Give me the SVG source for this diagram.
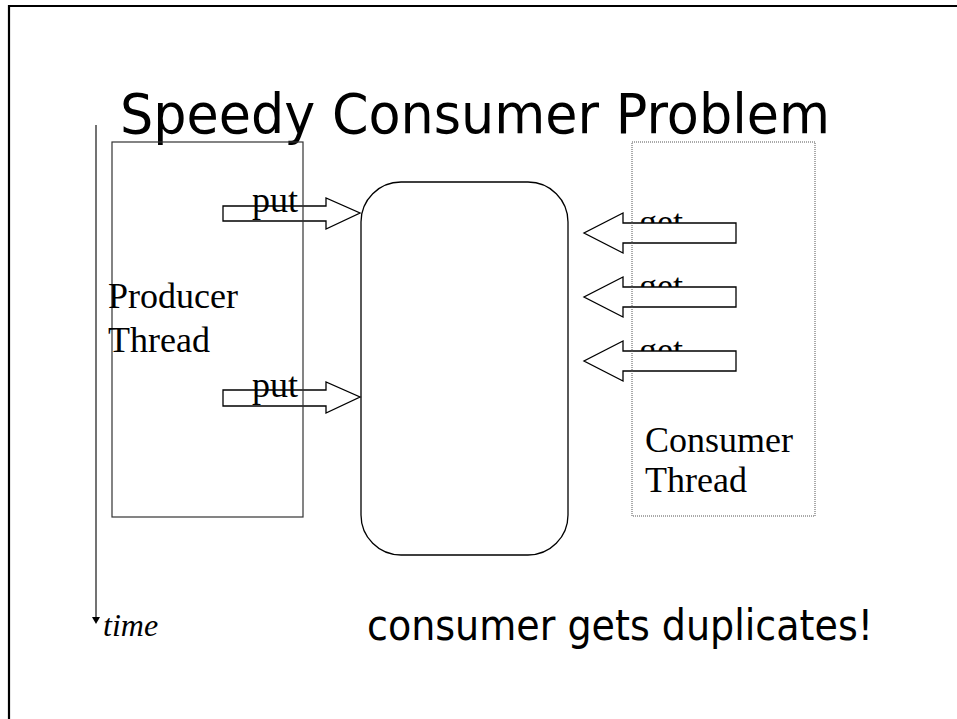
<svg xmlns="http://www.w3.org/2000/svg" width="957" height="719" viewBox="0 0 957 719">
<style>
.serif{font-family:"Liberation Serif","Times New Roman",serif;fill:#000}
.sans{font-family:"DejaVu Sans","Liberation Sans",sans-serif;fill:#000}
.lbl{font-size:36px}
.box{fill:none;stroke:#333;stroke-width:1.2}
.arrow{fill:#fff;stroke:#000;stroke-width:1.3;stroke-linejoin:miter}
</style>
<rect x="0" y="0" width="957" height="719" fill="#fff"/>
<path d="M9,725 V6 H962" fill="none" stroke="#000" stroke-width="2.2"/>
<g id="title">
<text class="sans" x="120" y="133" font-size="56" textLength="710" lengthAdjust="spacingAndGlyphs">Speedy Consumer Problem</text>
</g>
<g id="buffer">
<rect x="361" y="182" width="207" height="373" rx="40" ry="40" fill="none" stroke="#000" stroke-width="1.3"/>
</g>
<g id="connectors">
<text class="serif lbl" x="639" y="234">get</text>
<text class="serif lbl" x="639" y="298">get</text>
<text class="serif lbl" x="639" y="362">get</text>
<polygon class="arrow" points="736,223 623,223 623,213 584,233 623,253 623,243 736,243"/>
<polygon class="arrow" points="736,287 623,287 623,277 584,297 623,317 623,307 736,307"/>
<polygon class="arrow" points="736,351 623,351 623,341 584,361 623,381 623,371 736,371"/>
<polygon class="arrow" points="223,206 326,206 326,198 360,213 326,229 326,221 223,221"/>
<polygon class="arrow" points="223,390 326,390 326,382 360,397 326,413 326,406 223,406"/>
<line x1="96" y1="125" x2="96" y2="618" stroke="#444" stroke-width="1.5"/>
<polygon points="92,617 100,617 96,624" fill="#000"/>
</g>
<g id="producer">
<rect class="box" x="112" y="142" width="191" height="375"/>
<text class="serif lbl" x="108" y="308">Producer</text>
<text class="serif lbl" x="108" y="352">Thread</text>
</g>
<g id="consumer">
<rect x="632" y="142" width="183" height="374" fill="none" stroke="#555" stroke-width="1" stroke-dasharray="1,1"/>
<text class="serif lbl" x="645" y="452">Consumer</text>
<text class="serif lbl" x="645" y="492">Thread</text>
</g>
<g id="put-labels">
<text class="serif lbl" x="252" y="212">put</text>
<text class="serif lbl" x="252" y="397">put</text>
</g>
<g id="time-label">
<text class="serif" x="103" y="636" font-size="32" font-style="italic">time</text>
</g>
<g id="caption">
<text class="sans" x="367" y="640" font-size="42" textLength="506" lengthAdjust="spacingAndGlyphs">consumer gets duplicates!</text>
</g>
</svg>
